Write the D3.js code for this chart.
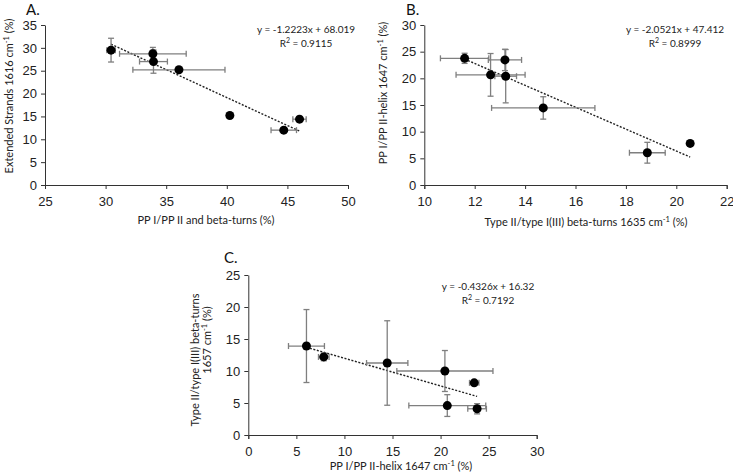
<!DOCTYPE html>
<html>
<head>
<meta charset="utf-8">
<script src="https://cdn.jsdelivr.net/npm/d3@7"></script>
<style>
  body { margin: 0; background: #fff; }
  svg { font-family: Lato, "Open Sans", sans-serif; }
  .axis path, .axis line { stroke: #333; stroke-width: 1; }
  .axis text { font-size: 13px; fill: #222; }
</style>
</head>
<body>
<script>
// Panel A: PP I/PP II and beta-turns vs Extended Strands
var aX    = [30.45, 33.9, 33.95, 36.05, 40.25, 46.0, 44.7];
var aY    = [29.5, 28.7, 27.0, 25.2, 15.2, 14.4, 12.0];
var aXErr = [0.35, 2.75, 1.15, 3.8, 0, 0.55, 1.05];
var aYErr = [2.6, 1.4, 2.55, 0.4, 0, 0.4, 0.3];

// Panel B: Type II/type I(III) beta-turns vs PP I/PP II-helix
var bX    = [11.6, 12.63, 13.23, 13.2, 14.72, 18.85, 20.55];
var bY    = [23.75, 20.65, 20.4, 23.45, 14.45, 6.05, 7.8];
var bXErr = [0.96, 1.37, 0.43, 0.66, 2.05, 0.71, 0];
var bYErr = [0.95, 4.0, 5.0, 2.0, 2.1, 1.95, 0.45];

// Panel C: PP I/PP II-helix vs Type II/type I(III) beta-turns
var cX    = [6.05, 7.85, 14.45, 20.45, 23.5, 20.7, 23.8];
var cY    = [13.9, 12.2, 11.25, 10.0, 8.15, 4.6, 4.1];
var cXErr = [1.87, 0.55, 2.15, 5.0, 0.49, 4.0, 0.97];
var cYErr = [5.7, 0.6, 6.6, 3.2, 0.3, 1.7, 0.8];

var w = 733, h = 476;
var svg = d3.select("body").append("svg").attr("width", w).attr("height", h);

function drawPanel(p) {
  var x = d3.scaleLinear().domain(p.xDomain).range([p.left, p.right]);
  var y = d3.scaleLinear().domain(p.yDomain).range([p.bottom, p.top]);
  var g = svg.append("g");

  g.append("g").attr("class", "axis")
    .attr("transform", "translate(0," + p.bottom + ")")
    .call(d3.axisBottom(x).tickValues(p.xTicks).tickSize(4).tickSizeOuter(4).tickPadding(8));
  g.append("g").attr("class", "axis")
    .attr("transform", "translate(" + p.left + ",0)")
    .call(d3.axisLeft(y).tickValues(p.yTicks).tickSize(4).tickSizeOuter(0).tickPadding(4));

  var pts = p.xs.map(function (d, i) {
    return {x: d, y: p.ys[i], ex: p.xErr[i], ey: p.yErr[i]};
  });

  // trendline
  var x0 = d3.min(p.xs), x1 = d3.max(p.xs);
  g.append("line")
    .attr("x1", x(x0)).attr("y1", y(p.slope * x0 + p.icpt))
    .attr("x2", x(x1)).attr("y2", y(p.slope * x1 + p.icpt))
    .attr("stroke", "#222").attr("stroke-width", 1.4)
    .attr("stroke-dasharray", "2,1.6");

  // error bars
  var eb = g.append("g").attr("stroke", "#7f7f7f").attr("stroke-width", 1.3).attr("fill", "none");
  pts.forEach(function (d) {
    var cx = x(d.x), cy = y(d.y), cap = 3;
    if (d.ex > 0) {
      var l = x(d.x - d.ex), r = x(d.x + d.ex);
      eb.append("line").attr("x1", l).attr("x2", r).attr("y1", cy).attr("y2", cy);
      eb.append("line").attr("x1", l).attr("x2", l).attr("y1", cy - cap).attr("y2", cy + cap);
      eb.append("line").attr("x1", r).attr("x2", r).attr("y1", cy - cap).attr("y2", cy + cap);
    }
    if (d.ey > 0) {
      var t = y(d.y + d.ey), b = y(d.y - d.ey);
      eb.append("line").attr("x1", cx).attr("x2", cx).attr("y1", t).attr("y2", b);
      eb.append("line").attr("x1", cx - cap).attr("x2", cx + cap).attr("y1", t).attr("y2", t);
      eb.append("line").attr("x1", cx - cap).attr("x2", cx + cap).attr("y1", b).attr("y2", b);
    }
  });

  g.selectAll("circle.pt").data(pts).enter().append("circle")
    .attr("class", "pt")
    .attr("cx", function (d) { return x(d.x); })
    .attr("cy", function (d) { return y(d.y); })
    .attr("r", 4.5).attr("fill", "#000");

  // panel letter
  g.append("text").attr("x", p.letterPos[0]).attr("y", p.letterPos[1])
    .style("font-size", "15px").style("fill", "#111").text(p.letter);

  // equation
  g.append("text").attr("text-anchor", "middle").style("font-size", "10px").style("fill", "#222")
    .attr("x", p.eqPos[0]).attr("y", p.eqPos[1]).text(p.eq);
  var r2 = g.append("text").attr("text-anchor", "middle").style("font-size", "10px").style("fill", "#222")
    .attr("x", p.eqPos[0]).attr("y", p.eqPos[1] + 14);
  r2.append("tspan").text("R");
  r2.append("tspan").attr("dy", -4).style("font-size", "7px").text("2");
  r2.append("tspan").attr("dy", 4).text(" = " + p.r2);

  addLabel(g, p.xTitle, p.xTitlePos[0], p.xTitlePos[1], 0);
  p.yTitle.forEach(function (parts, i) {
    addLabel(g, parts, p.yTitlePos[i][0], p.yTitlePos[i][1], -90);
  });
}

// parts: array of [text, isSuperscript]
function addLabel(g, parts, px, py, rot) {
  var t = g.append("text").attr("text-anchor", "middle")
    .attr("transform", "translate(" + px + "," + py + ") rotate(" + rot + ")")
    .style("font-size", "11px").style("fill", "#222");
  var raised = false;
  parts.forEach(function (s) {
    var span = t.append("tspan").text(s[0]);
    if (s[1]) {
      span.attr("dy", -4).style("font-size", "7.5px");
      raised = true;
    } else if (raised) {
      span.attr("dy", 4);
      raised = false;
    }
  });
}

drawPanel({
  xs: aX, ys: aY, xErr: aXErr, yErr: aYErr,
  xDomain: [25, 50], yDomain: [0, 35],
  xTicks: d3.range(25, 51, 5), yTicks: d3.range(0, 36, 5),
  left: 45, right: 348, top: 25, bottom: 185,
  slope: -1.2223, icpt: 68.019,
  eq: "y = -1.2223x + 68.019", r2: "0.9115", eqPos: [306, 33],
  letter: "A.", letterPos: [26, 15],
  xTitle: [["PP I/PP II and beta-turns (%)", false]], xTitlePos: [206, 224],
  yTitle: [[["Extended Strands 1616 cm", false], ["-1", true], ["  (%)", false]]],
  yTitlePos: [[13, 96]]
});

drawPanel({
  xs: bX, ys: bY, xErr: bXErr, yErr: bYErr,
  xDomain: [10, 22], yDomain: [0, 30],
  xTicks: d3.range(10, 23, 2), yTicks: d3.range(0, 31, 5),
  left: 424.3, right: 726.7, top: 25, bottom: 185,
  slope: -2.0521, icpt: 47.412,
  eq: "y = -2.0521x + 47.412", r2: "0.8999", eqPos: [675, 33],
  letter: "B.", letterPos: [406, 15],
  xTitle: [["Type II/type I(III) beta-turns 1635 cm", false], ["-1", true], [" (%)", false]], xTitlePos: [586, 226],
  yTitle: [[["PP I/PP II-helix 1647 cm", false], ["-1", true], [" (%)", false]]],
  yTitlePos: [[387, 93]]
});

drawPanel({
  xs: cX, ys: cY, xErr: cXErr, yErr: cYErr,
  xDomain: [0, 30], yDomain: [0, 25],
  xTicks: d3.range(0, 31, 5), yTicks: d3.range(0, 26, 5),
  left: 248.3, right: 536.7, top: 275, bottom: 435,
  slope: -0.4326, icpt: 16.32,
  eq: "y = -0.4326x + 16.32", r2: "0.7192", eqPos: [488, 290],
  letter: "C.", letterPos: [224, 263],
  xTitle: [["PP I/PP II-helix 1647 cm", false], ["-1", true], [" (%)", false]], xTitlePos: [401, 470],
  yTitle: [[["Type II/type I(III) beta-turns", false]], [["1657 cm", false], ["-1", true], [" (%)", false]]],
  yTitlePos: [[199, 360], [211, 340]]
});
</script>
</body>
</html>
